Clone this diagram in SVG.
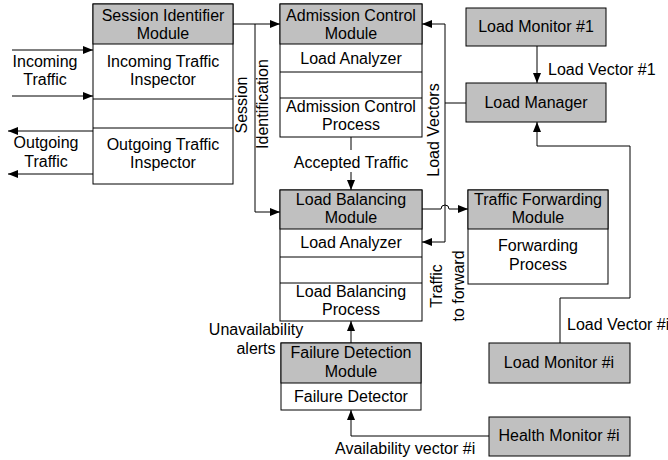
<svg xmlns="http://www.w3.org/2000/svg" width="668" height="460" viewBox="0 0 668 460">
<defs>
<style>
.box{fill:#fff;stroke:#000;stroke-width:1}
.hd{fill:#c0c0c0;stroke:#000;stroke-width:1}
.sep{stroke:#000;stroke-width:1}
text{font-family:"Liberation Sans",Arial,sans-serif;font-size:16px;fill:#000}
.c{text-anchor:middle}
.ln{fill:none;stroke:#000;stroke-width:1}
</style>
<marker id="ah" viewBox="0 0 10 8" refX="10" refY="4" markerWidth="10" markerHeight="8" markerUnits="userSpaceOnUse" orient="auto">
<path d="M0,0 L10,4 L0,8 Z" fill="#000"/>
</marker>
</defs>
<rect width="668" height="460" fill="#fff"/>

<g id="connectors">
<path class="ln" d="M12,50 H93" marker-end="url(#ah)"/>
<path class="ln" d="M12,96 H93" marker-end="url(#ah)"/>
<path class="ln" d="M93,131 H8" marker-end="url(#ah)"/>
<path class="ln" d="M93,174 H8" marker-end="url(#ah)"/>
<path class="ln" d="M233,24 H280" marker-end="url(#ah)"/>
<path class="ln" d="M255,24 V212 H280" marker-end="url(#ah)"/>
<path class="ln" d="M351,137 V150"/>
<path class="ln" d="M351,172 V190" marker-end="url(#ah)"/>
<path class="ln" d="M445,24 H422" marker-end="url(#ah)"/>
<path class="ln" d="M445,24 V242 H422" marker-end="url(#ah)"/>
<path class="ln" d="M466,103 H445"/>
<path class="ln" d="M422,209 H441 A4,4 0 0 1 449,209 H468" marker-end="url(#ah)"/>
<path class="ln" d="M537,46 V83" marker-end="url(#ah)"/>
<path class="ln" d="M560,343 V298 H630 V146 H537 V122" marker-end="url(#ah)"/>
<path class="ln" d="M489,436 H351 V410" marker-end="url(#ah)"/>
<path class="ln" d="M351,343 V321" marker-end="url(#ah)"/>
<text x="45" y="67" class="c">Incoming</text>
<text x="45" y="85" class="c">Traffic</text>
<text x="46" y="148" class="c">Outgoing</text>
<text x="46" y="167" class="c">Traffic</text>
<text class="c" transform="translate(247,105) rotate(-90)">Session</text>
<text class="c" transform="translate(268,104) rotate(-90)">Identification</text>
<text x="351" y="168" class="c">Accepted Traffic</text>
<text class="c" transform="translate(439,130) rotate(-90)">Load Vectors</text>
<text class="c" transform="translate(442,286) rotate(-90)">Traffic</text>
<text class="c" transform="translate(464,286) rotate(-90)">to forward</text>
<text x="548" y="75">Load Vector #1</text>
<text x="567" y="330">Load Vector #i</text>
<text x="335" y="454">Availability vector #i</text>
<text x="256" y="335" class="c">Unavailability</text>
<text x="256" y="354" class="c">alerts</text>
</g>

<g id="session-identifier">
<rect class="box" x="93" y="4" width="140" height="180"/>
<rect class="hd" x="93" y="4" width="140" height="40"/>
<line class="sep" x1="93" y1="99" x2="233" y2="99"/>
<line class="sep" x1="93" y1="128" x2="233" y2="128"/>
<text x="163" y="21" class="c">Session Identifier</text>
<text x="163" y="39" class="c">Module</text>
<text x="163" y="67" class="c">Incoming Traffic</text>
<text x="163" y="85" class="c">Inspector</text>
<text x="163" y="150" class="c">Outgoing Traffic</text>
<text x="163" y="168" class="c">Inspector</text>
</g>

<g id="admission-control">
<rect class="box" x="280" y="4" width="142" height="133"/>
<rect class="hd" x="280" y="4" width="142" height="40"/>
<line class="sep" x1="280" y1="72" x2="422" y2="72"/>
<line class="sep" x1="280" y1="98" x2="422" y2="98"/>
<text x="351" y="21" class="c">Admission Control</text>
<text x="351" y="39" class="c">Module</text>
<text x="351" y="64" class="c">Load Analyzer</text>
<text x="351" y="112" class="c">Admission Control</text>
<text x="351" y="130" class="c">Process</text>
</g>

<g id="load-balancing">
<rect class="box" x="280" y="190" width="142" height="131"/>
<rect class="hd" x="280" y="190" width="142" height="39"/>
<line class="sep" x1="280" y1="257" x2="422" y2="257"/>
<line class="sep" x1="280" y1="283" x2="422" y2="283"/>
<text x="351" y="205" class="c">Load Balancing</text>
<text x="351" y="223" class="c">Module</text>
<text x="351" y="248" class="c">Load Analyzer</text>
<text x="351" y="297" class="c">Load Balancing</text>
<text x="351" y="315" class="c">Process</text>
</g>

<g id="traffic-forwarding">
<rect class="box" x="468" y="190" width="140" height="94"/>
<rect class="hd" x="468" y="190" width="140" height="39"/>
<text x="538" y="205" class="c">Traffic Forwarding</text>
<text x="538" y="223" class="c">Module</text>
<text x="538" y="251" class="c">Forwarding</text>
<text x="538" y="270" class="c">Process</text>
</g>

<g id="load-monitor-1">
<rect class="hd" x="466" y="8" width="140" height="38"/>
<text x="536" y="32" class="c">Load Monitor #1</text>
</g>

<g id="load-manager">
<rect class="hd" x="466" y="83" width="140" height="39"/>
<text x="536" y="108" class="c">Load Manager</text>
</g>

<g id="load-monitor-i">
<rect class="hd" x="489" y="343" width="141" height="40"/>
<text x="559" y="368" class="c">Load Monitor #i</text>
</g>

<g id="health-monitor-i">
<rect class="hd" x="489" y="417" width="141" height="39"/>
<text x="559" y="441" class="c">Health Monitor #i</text>
</g>

<g id="failure-detection">
<rect class="box" x="281" y="343" width="140" height="67"/>
<rect class="hd" x="281" y="343" width="140" height="40"/>
<text x="351" y="358" class="c">Failure Detection</text>
<text x="351" y="377" class="c">Module</text>
<text x="351" y="402" class="c">Failure Detector</text>
</g>
</svg>
